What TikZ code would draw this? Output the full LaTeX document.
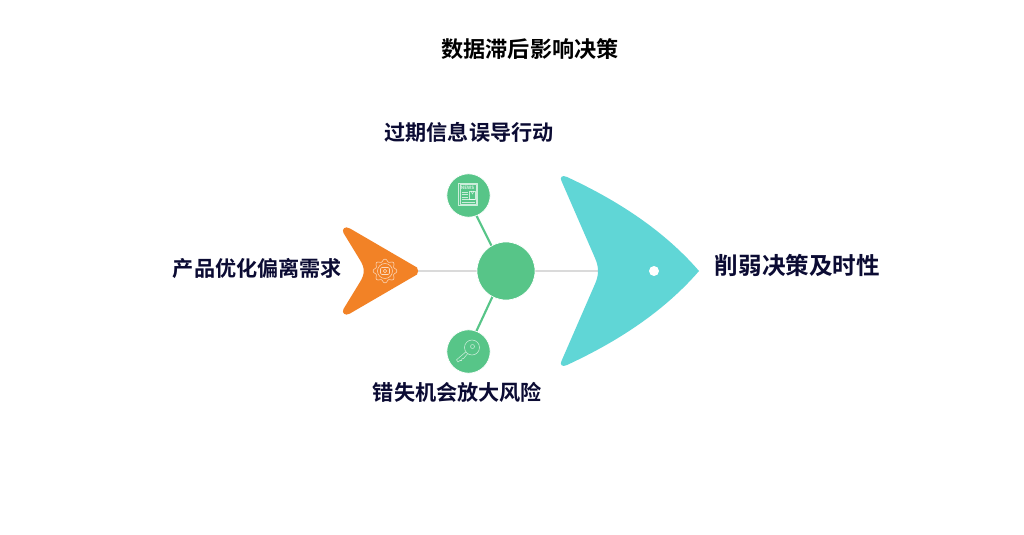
\documentclass[tikz,border=0pt]{standalone}
\usepackage{fontspec}
\setmainfont{Noto Sans CJK SC}[BoldFont={Noto Sans CJK SC Bold}]
\newfontfamily\cjkb{Noto Sans CJK SC Bold}
\definecolor{inkc}{HTML}{0B0B33}
\definecolor{greenc}{HTML}{57C588}
\definecolor{orangec}{HTML}{F28226}
\definecolor{tealc}{HTML}{60D6D6}
\definecolor{spinec}{HTML}{DADADA}
\pgfdeclarelayer{paper}
\pgfdeclarelayer{lines}
\pgfsetlayers{paper,lines,main}
\tikzset{
  every picture/.style={x=0.75pt,y=-0.75pt},
  lab/.style={font=\cjkb\fontsize{15.85pt}{18pt}\selectfont,text=inkc,inner sep=0pt},
  bubble/.style={circle,fill=greenc,draw=white,line width=0.5pt,inner sep=0pt},
  spine/.style={draw=spinec,line width=1.3pt},
  rib/.style={draw=greenc,line width=1.6pt},
  iconw/.style={draw=white,line width=0.4pt,opacity=0.7,line join=round}
}
\begin{document}
\begin{tikzpicture}
\useasboundingbox (0,0) rectangle (1024,535);
\begin{pgfonlayer}{paper}
\fill[white] (0,0) rectangle (1024,535);
\end{pgfonlayer}
\coordinate (tailtip) at (417,271);
\coordinate (headnotch) at (599,271);
\node[bubble,minimum size=43.5pt] (hub) at (506,271) {};
\node[bubble,minimum size=32.5pt] (topb) at (468.5,195.5) {};
\node[bubble,minimum size=32.5pt] (botb) at (468.5,351.5) {};
\begin{pgfonlayer}{lines}
\draw[spine] (tailtip) -- (hub.center);
\draw[spine] (hub.center) -- (headnotch);
\draw[rib] ([xshift=-1.5pt]hub.center) -- ([xshift=-1.5pt]topb.center);
\draw[rib] ([xshift=-1.2pt]hub.center) -- ([xshift=-1.2pt]botb.center);
\end{pgfonlayer}
% tail
\fill[orangec] (417,267.5) .. controls (418.5,270) and (418.5,272) .. (417,274.5)
  -- (350,313.5) .. controls (345,316.5) and (341.5,313) .. (343.5,309)
  -- (360,282) .. controls (365,274) and (365,268) .. (360,260)
  -- (343.5,233) .. controls (341.5,229) and (345,225.5) .. (350,228.5) -- cycle;
% head
\fill[tealc] (699,271)
  .. controls (660,226) and (610,197) .. (567,177)
  .. controls (562,174.5) and (559.5,177.5) .. (561.5,181)
  -- (595,258) .. controls (599,267) and (599,275) .. (595,284)
  -- (561.5,361) .. controls (559.5,364.5) and (562,367.5) .. (567,365)
  .. controls (610,345) and (660,316) .. (699,271) -- cycle;
\node[circle,fill=white,minimum size=7.5pt,inner sep=0pt] (eye) at (654,271) {};
% newspaper icon
\begin{scope}[shift={(468.5,195.5)}]
\draw[iconw] (-10,-12.5) rectangle (9,10);
\draw[iconw] (-8.5,-11) rectangle (7.5,8.5);
\node[font=\bfseries\fontsize{3.4pt}{3.4pt}\selectfont,text=white,opacity=0.8,inner sep=0pt] (news) at (-1,-7.5) {NEWS};
\draw[iconw] (1,-4.5) rectangle (7,3.5);
\draw[iconw] (2.5,-4.5) -- (4,-1.5) -- (5.5,-4.5);
\foreach \yy in {-3.5,-1,1.5}{\draw[iconw] (-7,\yy) -- (-0.5,\yy);}
\foreach \yy in {4,6.5}{\draw[iconw] (-7,\yy) -- (6,\yy);}
\end{scope}
% key icon
\begin{scope}[shift={(468.5,351)}]
\draw[iconw] (3.5,-3.5) circle (7.5);
\draw[iconw] (4,-4.5) circle (2);
\draw[iconw] (-2.7,0.9) -- (-12,8.8) -- (-10.5,11) -- (-8.5,9.5) -- (-7,9.5) -- (-6.5,7.8) -- (-5,7.5) -- (-0.9,2.7);
\end{scope}
% gear icon
\begin{scope}[shift={(385,271)}]
\draw[iconw]
 plot[smooth cycle,samples=48,domain=0:352.5] (\x:{10.7+1.3*cos(8*\x)});
\draw[iconw] (0,0) circle (7.5);
\draw[iconw,rounded corners=1pt] (-4.5,-3.5) rectangle (4.5,3.5);
\draw[iconw] (0,0) circle (1.8);
\end{scope}
% text
\node[lab,font=\cjkb\fontsize{16.6pt}{18pt}\selectfont,text=black,anchor=center] (title) at (530,49.5) {数据滞后影响决策};
\node[lab] (lt) at (469,132) {过期信息误导行动};
\node[lab] (ll) at (257.5,268.5) {产品优化偏离需求};
\node[lab] (lb) at (457.5,392) {错失机会放大风险};
\node[lab,font=\cjkb\fontsize{17.7pt}{20pt}\selectfont] (lr) at (797.5,265) {削弱决策及时性};
\end{tikzpicture}
\end{document}
